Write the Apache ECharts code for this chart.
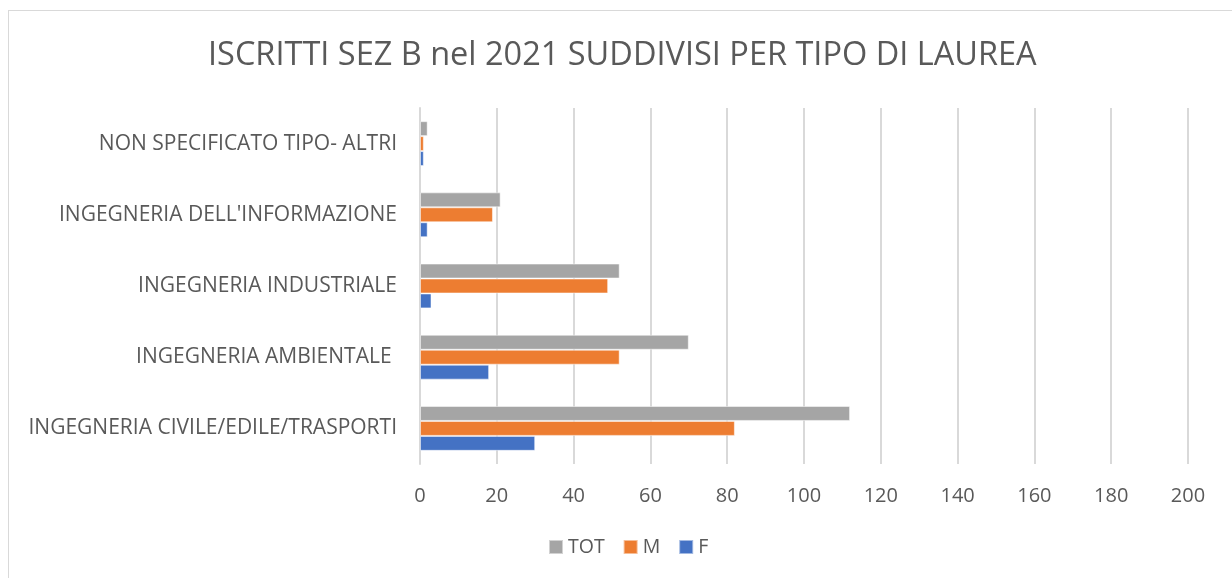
<!DOCTYPE html>
<html>
<head>
<meta charset="utf-8">
<script src="https://cdn.jsdelivr.net/npm/echarts@6/dist/echarts.min.js"></script>
<style>
	html, body { margin: 0; padding: 0; background: #fff; }
	#frame {
		position: absolute;
		left: 8px; top: 10px;
		width: 1240px; height: 580px;
		border: 1px solid #d9d9d9;
		box-sizing: border-box;
	}
	#chart { position: absolute; left: 0; top: 0; width: 1232px; height: 578px; }
</style>
</head>
<body>
<div id="frame"></div>
<div id="chart"></div>
<script>
// categories from bottom to top
const categories = [
	'INGEGNERIA CIVILE/EDILE/TRASPORTI',
	'INGEGNERIA AMBIENTALE ',
	'INGEGNERIA INDUSTRIALE',
	"INGEGNERIA DELL'INFORMAZIONE",
	'NON SPECIFICATO TIPO- ALTRI'
];
const valuesF = [30, 18, 3, 2, 1];
const valuesM = [82, 52, 49, 19, 1];
const valuesTot = [112, 70, 52, 21, 2];
const xTicks = [0, 200, 20];

const font = '"Open Sans", "Liberation Sans", sans-serif';
const textColor = '#595959';

let myChart = echarts.init(document.getElementById('chart'));

function barSeries(name, data, color) {
	return {
		name: name,
		type: 'bar',
		data: data,
		barGap: '0%',
		barCategoryGap: '37%',
		itemStyle: { color: color, borderColor: 'rgba(255,255,255,0.5)', borderWidth: 1 },
		animation: false
	};
}

let option = {
	title: {
		text: 'ISCRITTI SEZ B nel 2021 SUDDIVISI PER TIPO DI LAUREA',
		left: 203,
		top: 34,
		textStyle: { fontFamily: font, fontSize: 32.5, fontWeight: 'normal', color: textColor }
	},
	legend: {
		data: ['TOT', 'M', 'F'],
		bottom: 16,
		left: 543,
		itemWidth: 14,
		itemHeight: 14,
		itemGap: 18,
		icon: 'rect',
		textStyle: { fontFamily: font, fontSize: 19.5, color: textColor }
	},
	grid: {
		left: 420,
		right: 44,
		top: 108,
		bottom: 114
	},
	xAxis: {
		type: 'value',
		min: xTicks[0],
		max: xTicks[1],
		interval: xTicks[2],
		axisLine: { show: false },
		axisTick: { show: false },
		axisLabel: { fontFamily: font, fontSize: 20, color: textColor, margin: 22 },
		splitLine: { lineStyle: { color: '#d9d9d9', width: 2 } }
	},
	yAxis: {
		type: 'category',
		data: categories,
		axisLine: { lineStyle: { color: '#d9d9d9', width: 2 } },
		axisTick: { show: false },
		axisLabel: { fontFamily: font, fontSize: 21, color: textColor, margin: 23 }
	},
	series: [
		barSeries('TOT', valuesTot, '#a5a5a5'),
		barSeries('M', valuesM, '#ed7d31'),
		barSeries('F', valuesF, '#4472c4')
	]
};

myChart.setOption(option);
</script>
</body>
</html>
